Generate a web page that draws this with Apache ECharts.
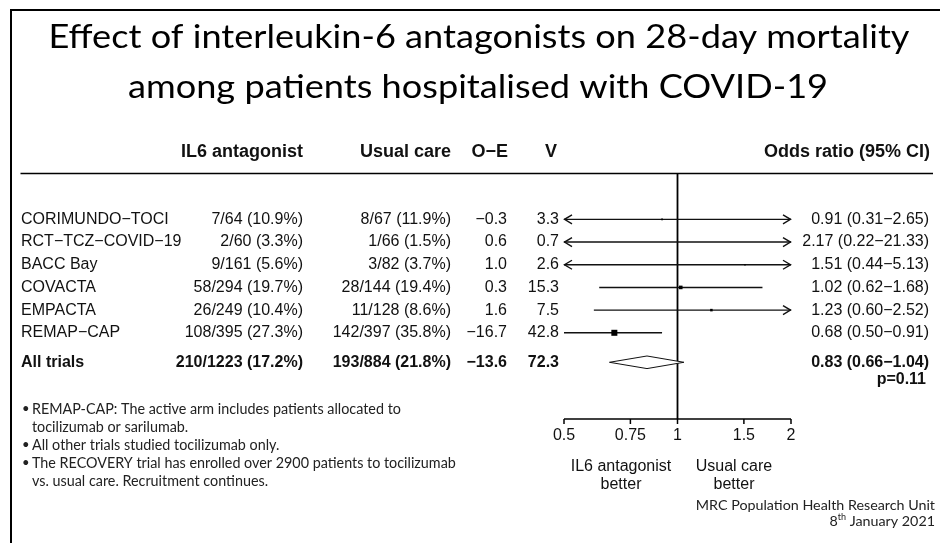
<!DOCTYPE html>
<html><head><meta charset="utf-8">
<script src="https://cdn.jsdelivr.net/npm/echarts@6/dist/echarts.min.js"></script>
<style>html,body{margin:0;padding:0;background:#fff}#c{width:940px;height:543px}</style>
</head><body><div id="c"></div>
<script>
// ---------- data ----------
const trials = ['CORIMUNDO−TOCI', 'RCT−TCZ−COVID−19', 'BACC Bay', 'COVACTA', 'EMPACTA', 'REMAP−CAP'];
const il6Deaths = [7, 2, 9, 58, 26, 108];
const il6Total = [64, 60, 161, 294, 249, 395];
const ucDeaths = [8, 1, 3, 28, 11, 142];
const ucTotal = [67, 66, 82, 144, 128, 397];
const oMinusE = [-0.3, 0.6, 1.0, 0.3, 1.6, -16.7];
const variances = [3.3, 0.7, 2.6, 15.3, 7.5, 42.8];
const oddsRatio = [0.91, 2.17, 1.51, 1.02, 1.23, 0.68];
const ciLow = [0.31, 0.22, 0.44, 0.62, 0.60, 0.50];
const ciHigh = [2.65, 21.33, 5.13, 1.68, 2.52, 0.91];
const allLabel = 'All trials';
const allIl6 = [210, 1223];
const allUc = [193, 884];
const allOE = -13.6, allV = 72.3;
const allOR = [0.83, 0.66, 1.04];
const allP = 0.11;
const xTicks = [0.5, 0.75, 1, 1.5, 2];
const xTickLabels = ['0.5', '0.75', '1', '1.5', '2'];
const headers = ['IL6 antagonist', 'Usual care', 'O−E', 'V', 'Odds ratio (95% CI)'];
const titleLines = ['Effect of interleukin-6 antagonists on 28-day mortality', 'among patients hospitalised with COVID-19'];
const notes = [
  ['•', 'REMAP-CAP: The active arm includes patients allocated to'],
  ['', 'tocilizumab or sarilumab.'],
  ['•', 'All other trials studied tocilizumab only.'],
  ['•', 'The RECOVERY trial has enrolled over 2900 patients to tocilizumab'],
  ['', 'vs. usual care. Recruitment continues.']
];
const favourLabels = ['IL6 antagonist\nbetter', 'Usual care\nbetter'];
const creditLine = 'MRC Population Health Research Unit';

// ---------- layout ----------
const AX_MIN = 0.5, AX_MAX = 2;
const ROW_MIN = -2, ROW_MAX = 8.8;
const TOTAL_ROW = 6.3, P_ROW = 7.05;
const COL = { name: 21, il6: 303, uc: 451, oe: 507, v: 559, or: 929 };
const BOX_K = 0.92;
const ARIAL = '"Liberation Sans", Arial, Helvetica, sans-serif';
const CAL = 'Lato, "Open Sans", sans-serif';
const INK = '#111';

const fmt1 = v => v.toFixed(1).replace('-', '−');
const frac = (d, n) => d + '/' + n + ' (' + (100 * d / n).toFixed(1) + '%)';
const orText = (o, l, h) => o.toFixed(2) + ' (' + l.toFixed(2) + '−' + h.toFixed(2) + ')';

function txt(x, y, s, align, size, bold, fam, fill) {
  return { type: 'text', style: { x: x, y: y, text: s, align: align, verticalAlign: 'middle',
    fontSize: size, fontWeight: bold ? 'bold' : 'normal', fontFamily: fam || ARIAL, fill: fill || INK } };
}

const chart = echarts.init(document.getElementById('c'), null, { renderer: 'canvas' });

const option = {
  animation: false,
  backgroundColor: '#fff',
  grid: { left: 564, right: 149, top: 174, bottom: 124 },
  xAxis: { type: 'log', logBase: 2, min: AX_MIN, max: AX_MAX, show: false },
  yAxis: { type: 'value', inverse: true, min: ROW_MIN, max: ROW_MAX, show: false },
  graphic: [
    { type: 'rect', shape: { x: 11, y: 10, width: 1200, height: 1000 }, style: { fill: 'none', stroke: '#000', lineWidth: 2 } },
    { type: 'text', x: 479, y: 38, scaleX: 1.13, style: { x: 0, y: 0, text: titleLines[0], align: 'center', verticalAlign: 'middle', fontSize: 32, fontFamily: CAL, fill: '#000' } },
    { type: 'text', x: 478, y: 88, scaleX: 1.13, style: { x: 0, y: 0, text: titleLines[1], align: 'center', verticalAlign: 'middle', fontSize: 32, fontFamily: CAL, fill: '#000' } },
    ...notes.map((n, i) => ({ type: 'group', children: [
      { type: 'text', style: { x: 22, y: 409 + i * 18, text: n[0], align: 'left', verticalAlign: 'middle', fontSize: 13, fontFamily: CAL, fill: '#222' } },
      { type: 'text', style: { x: 32, y: 409 + i * 18, text: n[1], align: 'left', verticalAlign: 'middle', fontSize: 14.35, fontFamily: CAL, fill: '#222' } }
    ] })),
    { type: 'text', style: { x: 621, y: 476, text: favourLabels[0], align: 'center', verticalAlign: 'middle', fontSize: 16, lineHeight: 18, fontFamily: ARIAL, fill: INK } },
    { type: 'text', style: { x: 734, y: 476, text: favourLabels[1], align: 'center', verticalAlign: 'middle', fontSize: 16, lineHeight: 18, fontFamily: ARIAL, fill: INK } },
    { type: 'text', style: { x: 935, y: 505, text: creditLine, align: 'right', verticalAlign: 'middle', fontSize: 14.3, fontFamily: CAL, fill: '#222' } },
    { type: 'text', style: { x: 935, y: 521, text: '{a|8}{s|th}{a| January 2021}', align: 'right', verticalAlign: 'middle',
      rich: { a: { fontSize: 14.3, fontFamily: CAL, fill: '#222', lineHeight: 16 }, s: { fontSize: 9, fontFamily: CAL, fill: '#222', verticalAlign: 'top', lineHeight: 16 } } } }
  ],
  series: [
    // header row + header rule + reference line + axis
    {
      type: 'custom', coordinateSystem: 'cartesian2d', clip: false, silent: true,
      data: [[1, ROW_MIN]],
      renderItem: function (params, api) {
        const top = api.coord([1, ROW_MIN]);
        const bot = api.coord([1, ROW_MAX]);
        const hy = top[1] - 22;
        const left = api.coord([AX_MIN, ROW_MAX]);
        const right = api.coord([AX_MAX, ROW_MAX]);
        const kids = [
          txt(COL.il6, hy, headers[0], 'right', 18, true),
          txt(COL.uc, hy, headers[1], 'right', 18, true),
          txt(COL.oe + 1, hy, headers[2], 'right', 18, true),
          txt(COL.v - 2, hy, headers[3], 'right', 18, true),
          txt(COL.or + 1, hy, headers[4], 'right', 18, true),
          { type: 'line', shape: { x1: 20.5, y1: top[1] - 0.5, x2: 933, y2: top[1] - 0.5 }, style: { stroke: '#000', lineWidth: 1.6 } },
          { type: 'line', shape: { x1: top[0], y1: top[1], x2: bot[0], y2: bot[1] }, style: { stroke: '#000', lineWidth: 1.8 } },
          { type: 'line', shape: { x1: left[0], y1: left[1], x2: right[0], y2: right[1] }, style: { stroke: '#000', lineWidth: 1.5 } }
        ];
        xTicks.forEach(function (t, i) {
          const p = api.coord([t, ROW_MAX]);
          kids.push({ type: 'line', shape: { x1: p[0], y1: p[1], x2: p[0], y2: p[1] + 5 }, style: { stroke: '#000', lineWidth: 1.5 } });
          kids.push(txt(p[0], p[1] + 17, xTickLabels[i], 'center', 16, false));
        });
        return { type: 'group', children: kids };
      }
    },
    // table text for trials
    {
      type: 'custom', coordinateSystem: 'cartesian2d', clip: false, silent: true,
      data: trials.map(function (t, i) { return [1, i]; }),
      renderItem: function (params, api) {
        const i = params.dataIndex;
        const y = api.coord([1, api.value(1)])[1];
        return { type: 'group', children: [
          txt(COL.name, y, trials[i], 'left', 16, false),
          txt(COL.il6, y, frac(il6Deaths[i], il6Total[i]), 'right', 16, false),
          txt(COL.uc, y, frac(ucDeaths[i], ucTotal[i]), 'right', 16, false),
          txt(COL.oe, y, fmt1(oMinusE[i]), 'right', 16, false),
          txt(COL.v, y, fmt1(variances[i]), 'right', 16, false),
          txt(COL.or, y, orText(oddsRatio[i], ciLow[i], ciHigh[i]), 'right', 16, false)
        ] };
      }
    },
    // CI lines, arrows and boxes
    {
      type: 'custom', coordinateSystem: 'cartesian2d', clip: false, silent: true,
      data: trials.map(function (t, i) { return [oddsRatio[i], i, ciLow[i], ciHigh[i], variances[i]]; }),
      encode: { x: 0, y: 1 },
      renderItem: function (params, api) {
        const o = api.value(0), r = api.value(1), lo = api.value(2), hi = api.value(3), v = api.value(4);
        const y = api.coord([1, r])[1];
        const xl = api.coord([Math.max(lo, AX_MIN), r])[0];
        const xh = api.coord([Math.min(hi, AX_MAX), r])[0];
        const xc = api.coord([o, r])[0];
        const s = BOX_K * Math.sqrt(v);
        const st = { stroke: '#111', lineWidth: 1.4, fill: 'none' };
        const kids = [{ type: 'line', shape: { x1: xl, y1: y, x2: xh, y2: y }, style: st }];
        if (lo < AX_MIN) kids.push({ type: 'polyline', shape: { points: [[xl + 8, y - 4.5], [xl + 0.5, y], [xl + 8, y + 4.5]] }, style: st });
        if (hi > AX_MAX) kids.push({ type: 'polyline', shape: { points: [[xh - 8, y - 4.5], [xh - 0.5, y], [xh - 8, y + 4.5]] }, style: st });
        kids.push({ type: 'rect', shape: { x: xc - s / 2, y: y - s / 2, width: s, height: s }, style: { fill: '#000' } });
        return { type: 'group', children: kids };
      }
    },
    // overall row
    {
      type: 'custom', coordinateSystem: 'cartesian2d', clip: false, silent: true,
      data: [[allOR[0], TOTAL_ROW, allOR[1], allOR[2]]],
      encode: { x: 0, y: 1 },
      renderItem: function (params, api) {
        const o = api.value(0), r = api.value(1), lo = api.value(2), hi = api.value(3);
        const c = api.coord([o, r]);
        const xl = api.coord([lo, r])[0], xh = api.coord([hi, r])[0];
        const y = c[1];
        const py = api.coord([1, P_ROW])[1];
        return { type: 'group', children: [
          { type: 'polygon', shape: { points: [[xl, y], [c[0], y - 6.3], [xh, y], [c[0], y + 6.3]] }, style: { fill: '#fff', stroke: '#111', lineWidth: 1 } },
          txt(COL.name, y, allLabel, 'left', 16, true),
          txt(COL.il6, y, frac(allIl6[0], allIl6[1]), 'right', 16, true),
          txt(COL.uc, y, frac(allUc[0], allUc[1]), 'right', 16, true),
          txt(COL.oe, y, fmt1(allOE), 'right', 16, true),
          txt(COL.v, y, fmt1(allV), 'right', 16, true),
          txt(COL.or, y, orText(allOR[0], allOR[1], allOR[2]), 'right', 16, true),
          txt(COL.or - 3, py, 'p=' + allP.toFixed(2), 'right', 16, true)
        ] };
      }
    }
  ]
};
chart.setOption(option);
</script></body></html>
